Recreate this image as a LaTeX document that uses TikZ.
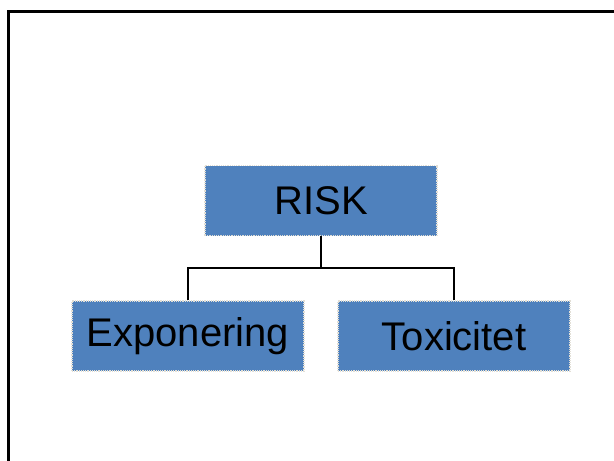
\documentclass[tikz,border=0pt]{standalone}
\usepackage{fontspec}
\setmainfont{Liberation Sans}
\usepackage{tikz}
\usetikzlibrary{positioning}
\definecolor{boxblue}{HTML}{4F81BD}
\definecolor{boxedge}{HTML}{E2DFD6}

\begin{document}
\begin{tikzpicture}[
  x=1pt, y=-1pt,
  % boxes of the tree
  box/.style={rectangle, draw=boxedge, densely dotted, line width=1.2pt, fill=boxblue,
    minimum width=232pt, minimum height=70pt, inner sep=0pt, align=center,
    font=\fontsize{40}{44}\selectfont},
  conn/.style={draw=black, line width=2.6pt, solid},
  frame/.style={draw=black, line width=3pt}
]
\useasboundingbox (0,0) rectangle (614,461);

% outer frame, running off the page
\draw[frame] (8.5,11) rectangle (640,480);

% top node
\node[box] (risk) at (321,200.5) {RISK};

% second level
\node[box] (expo) at (188,336) {Exponering};
\node[box] (toxi) at (454,336) {Toxicitet};

% connectors
\draw[conn] (risk.south) -- ++(0,32) coordinate (bus);
\draw[conn] (expo.north) |- (bus) -| (toxi.north);

\end{tikzpicture}
\end{document}
